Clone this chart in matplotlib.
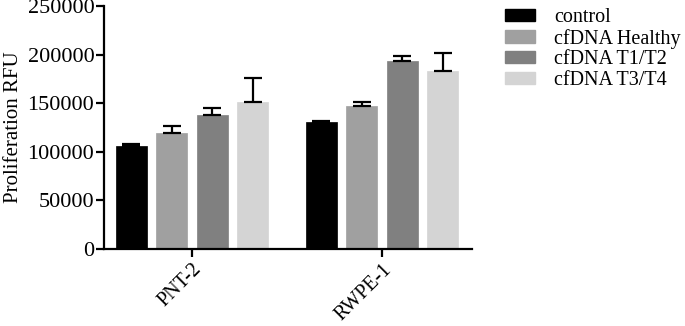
import numpy as np
import matplotlib
matplotlib.use("Agg")
import matplotlib.pyplot as plt
from matplotlib.patches import Patch

plt.rcParams["font.family"] = ["Liberation Serif", "DejaVu Serif"]

cell_lines = ["PNT-2", "RWPE-1"]
series = ["control", "cfDNA Healthy", "cfDNA T1/T2", "cfDNA T3/T4"]
colors = ["#000000", "#a0a0a0", "#808080", "#d4d4d4"]

# mean RFU per series, one value per cell line
means = {
    "control": [106300, 130700],
    "cfDNA Healthy": [119700, 146800],
    "cfDNA T1/T2": [138200, 193400],
    "cfDNA T3/T4": [150900, 183400],
}
errors = {
    "control": [1400, 1000],
    "cfDNA Healthy": [6800, 4700],
    "cfDNA T1/T2": [7200, 5500],
    "cfDNA T3/T4": [25300, 18500],
}

fig = plt.figure(figsize=(6.85, 3.26), dpi=100)
ax = fig.add_axes([0.1518, 0.236, 0.689 - 0.1518, 0.9816 - 0.236])

x = np.arange(len(cell_lines))
step = 0.213
width = 0.163

for i, name in enumerate(series):
    pos = x + (i - 1.5) * step
    vals = means[name]
    err = errors[name]
    ax.bar(pos, vals, width, color=colors[i], edgecolor=colors[i], linewidth=0.5, zorder=2)
    ax.errorbar(pos, vals, yerr=[np.zeros(len(err)), err], fmt="none",
                ecolor="black", elinewidth=1.6, capsize=6.5, capthick=1.6, zorder=3)

ax.set_xlim(-0.463, 1.474)
ax.set_ylim(0, 250000)
ax.set_yticks(np.arange(0, 250001, 50000))
ax.set_xticks(x)
ax.set_xticklabels(cell_lines, rotation=45, ha="right", rotation_mode="anchor")
ax.set_ylabel("Proliferation RFU", fontsize=15, labelpad=3)

for side in ["top", "right"]:
    ax.spines[side].set_visible(False)
for side in ["left", "bottom"]:
    ax.spines[side].set_linewidth(1.6)
ax.tick_params(axis="both", labelsize=16, width=1.6, length=6, direction="out")
ax.tick_params(axis="y", pad=1)
ax.tick_params(axis="x", labelsize=14.5, pad=2)

handles = [Patch(facecolor=c, edgecolor=c) for c in colors]
fig.legend(handles, series, loc="upper left", bbox_to_anchor=(0.719, 1.012),
           frameon=False, fontsize=14.5, handlelength=1.5, handleheight=0.57,
           handletextpad=0.95, labelspacing=0.08, borderpad=0.1)

fig.savefig("out.png", dpi=100)
